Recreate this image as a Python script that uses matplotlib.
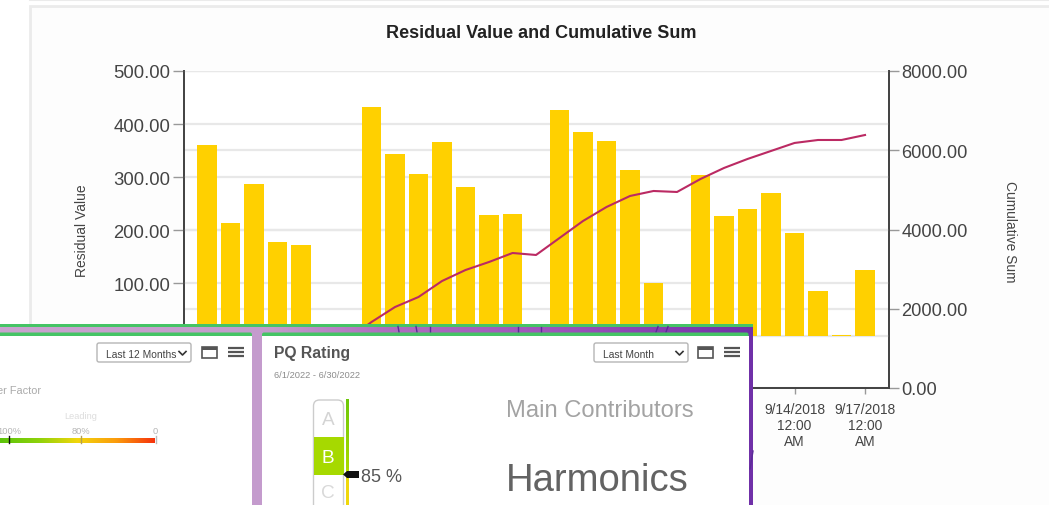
import numpy as np
import matplotlib
matplotlib.use('Agg')
import matplotlib.pyplot as plt
from matplotlib.colors import LinearSegmentedColormap
from matplotlib.patches import Rectangle, FancyBboxPatch, Polygon

plt.rcParams['font.family'] = ['Liberation Sans', 'DejaVu Sans']

W, H = 1049, 506

# one entry per day, 8/20/2018 to 9/17/2018
residual = [361, 213, 287, 178, 172, 0, 0,
            432, 343, 306, 366, 281, 228, 230, 0,
            426, 385, 368, 313, 100, 0,
            304, 226, 240, 270, 194, 85, 2, 125]
cumulative = [361, 574, 861, 1039, 1211, 1211, 1230,
              1666, 2044, 2297, 2700, 2978, 3180, 3407, 3357,
              3786, 4215, 4568, 4846, 4972, 4947,
              5275, 5553, 5780, 5982, 6184, 6259, 6259, 6385]
left_ticks = [0, 100, 200, 300, 400, 500]
right_ticks = [0, 2000, 4000, 6000, 8000]
tick_days = [25, 28]
tick_labels = ['9/14/2018\n12:00\nAM', '9/17/2018\n12:00\nAM']

days = np.arange(len(residual))


def px(size):
    return size * 0.72


fig = plt.figure(figsize=(W / 100, H / 100), dpi=100, facecolor='white')

# page behind the chart
bg = fig.add_axes([0, 0, 1, 1], zorder=-1)
bg.set_xlim(0, W)
bg.set_ylim(H, 0)
bg.axis('off')
bg.add_patch(Rectangle((30, 7), W, H, fc='#fdfdfd', ec='#ebebeb', lw=2))
bg.plot([30, W], [0.5, 0.5], color='#ebebeb', lw=1.5)

# chart: right scale is the base axes so its grid stays behind the bars
rect = [184 / W, 1 - 389 / H, (889 - 184) / W, (389 - 72) / H]
ax_r = fig.add_axes(rect, zorder=1)
ax_l = ax_r.twinx()
ax_l.set_zorder(2)
ax_l.patch.set_visible(False)

ax_r.set_xlim(-0.98, 29.02)
ax_r.set_ylim(0, 8000)
ax_l.set_ylim(-98.1, 500)

ax_r.yaxis.tick_right()
ax_r.yaxis.set_label_position('right')
ax_l.yaxis.tick_left()
ax_l.yaxis.set_label_position('left')

ax_r.set_yticks(right_ticks)
ax_r.set_yticklabels(['%.2f' % v for v in right_ticks], fontsize=px(18.3), color='#444444')
ax_l.set_yticks(left_ticks)
ax_l.set_yticklabels(['%.2f' % v for v in left_ticks], fontsize=px(18.5), color='#444444')
ax_r.tick_params(axis='y', length=7, width=1, color='#999999', pad=2)
ax_l.tick_params(axis='y', length=8, width=1, color='#999999', pad=2)

ax_r.grid(axis='y', color='#e8e8e8', lw=1.6)
ax_l.grid(axis='y', color='#e8e8e8', lw=1.6)
ax_r.set_axisbelow(True)
ax_l.set_axisbelow(True)

ax_l.bar(days, residual, width=0.83, color='#ffd000', zorder=2)
ax_l.plot(days, cumulative, color='#bb2a63', lw=1.5, zorder=3, transform=ax_r.transData)

ax_r.set_xticks(tick_days)
ax_r.set_xticklabels(tick_labels, fontsize=px(13.7), color='#444444', linespacing=1.2)
ax_r.tick_params(axis='x', length=4, width=1, color='#999999', pad=6)
ax_l.tick_params(axis='x', length=0, labelbottom=False)

for a in (ax_r, ax_l):
    a.spines['top'].set_visible(False)
    for s in ('left', 'right', 'bottom'):
        a.spines[s].set_color('#444444')
        a.spines[s].set_linewidth(1.3)

fig.text(541.5 / W, 1 - 33 / H, 'Residual Value and Cumulative Sum', fontsize=px(18), fontweight='bold',
         color='#222222', ha='center', va='center')
fig.text(82 / W, 1 - 230.5 / H, 'Residual Value', fontsize=px(13.9), color='#444444', rotation=90,
         ha='center', va='center')
fig.text(1010 / W, 1 - 231.5 / H, 'Cumulative Sum', fontsize=px(13.8), color='#444444', rotation=270,
         ha='center', va='center')

# dashboard panels sitting over the chart, drawn in screen pixels
ov = fig.add_axes([0, 0, 1, 1], zorder=10)
ov.patch.set_visible(False)
ov.axis('off')

band = LinearSegmentedColormap.from_list('band', [(0, '#c9a3cf'), (0.36, '#c49bcd'), (0.5, '#b070c0'),
                                                  (0.75, '#9c52bb'), (1, '#7030a8')])
ov.imshow(np.linspace(0, 1, 256).reshape(1, -1), cmap=band, extent=(0, 753, H, 327.5), aspect='auto', zorder=1)
ov.set_xlim(0, W)
ov.set_ylim(H, 0)

ov.add_patch(Rectangle((0, 325), 753, 2.5, fc='#45c465', ec='none', zorder=2))
for x0, x1 in [(398, 399), (416, 417), (430, 430), (518, 518), (541, 541), (658, 656), (668, 666)]:
    ov.plot([x0, x1], [327.5, 333], color='#5a2a98', lw=1, zorder=2)
ov.plot([753, 750], [452, 470], color='#5a2a98', lw=1, zorder=2)

# cards
for x0, x1 in [(-5, 252), (262, 748.5)]:
    ov.add_patch(FancyBboxPatch((x0, 333.5), x1 - x0, 8, boxstyle='round,pad=0,rounding_size=2',
                                fc='#45c465', ec='none', zorder=3))
    ov.add_patch(Rectangle((x0, 337), x1 - x0, 180, fc='white', ec='none', zorder=3))


def text(x, y, s, size, color, ha='left', weight='normal'):
    ov.text(x, y + 1.5, s, fontsize=px(size), color=color, ha=ha, va='center', fontweight=weight, zorder=6)


def dropdown(x0, x1, label):
    ov.add_patch(FancyBboxPatch((x0, 344), x1 - x0, 19, boxstyle='round,pad=0,rounding_size=2',
                                fc='white', ec='#b5b5b5', lw=1, zorder=5))
    text(x0 + 9, 353, label, 10.2, '#444444')
    ov.plot([x1 - 12, x1 - 8.5, x1 - 5], [352.5, 356, 352.5], color='#333333', lw=1.2, zorder=6)


def icons(x):
    ov.add_patch(Rectangle((x, 348), 15, 11, fc='white', ec='#555555', lw=1.2, zorder=5))
    ov.add_patch(Rectangle((x, 348), 15, 2.5, fc='#555555', ec='none', zorder=6))
    for y in (348.5, 352.5, 356.5):
        ov.plot([x + 26, x + 42], [y, y], color='#555555', lw=1.6, zorder=6, solid_capstyle='butt')


# left card
dropdown(97, 191, 'Last 12 Months')
icons(202)
text(41.5, 390, 'er Factor', 11, '#ababab', ha='right')
text(81, 415, 'Leading', 9.3, '#dddddd', ha='center')
text(9, 430, '100%', 9.3, '#b5b5b5', ha='center')
text(81, 430, '80%', 9.3, '#b5b5b5', ha='center')
text(155, 430, '0', 9.3, '#b5b5b5', ha='center')
pf = LinearSegmentedColormap.from_list('pf', ['#5cc40a', '#8ed20a', '#f2d60c', '#fb9c0c', '#f6320c'])
ov.imshow(np.linspace(0, 1, 256).reshape(1, -1), cmap=pf, extent=(0, 155, 444, 439), aspect='auto', zorder=4)
ov.set_xlim(0, W)
ov.set_ylim(H, 0)
ov.plot([9, 9], [437, 444], color='#111111', lw=1, zorder=5)
ov.plot([81, 81], [437, 444], color='#b5a050', lw=1, zorder=5)
ov.plot([155.5, 155.5], [437, 444], color='#bbbbbb', lw=1, zorder=5)

# right card
text(274, 352, 'PQ Rating', 15.7, '#555555', weight='bold')
text(274, 374, '6/1/2022 - 6/30/2022', 9.3, '#8c8c8c')
dropdown(594, 688, 'Last Month')
icons(698)

ov.add_patch(FancyBboxPatch((313.5, 401), 30, 130, boxstyle='round,pad=0,rounding_size=6',
                            fc='white', ec='#cccccc', lw=1, zorder=4))
ov.add_patch(Rectangle((314, 438), 29.5, 38, fc='#a6d900', ec='none', zorder=5))
text(328, 419, 'A', 19, '#d4d4d4', ha='center')
text(328, 457, 'B', 19, 'white', ha='center')
text(328, 492, 'C', 19, '#d9d9d9', ha='center')

rate = LinearSegmentedColormap.from_list('rate', [(0, '#6cc80a'), (0.65, '#a8d800'), (0.78, '#f0d80c'), (1, '#f0d80c')])
ov.imshow(np.linspace(0, 1, 128).reshape(-1, 1), cmap=rate, extent=(346.2, 348.4, H, 400), aspect='auto', zorder=4)
ov.set_xlim(0, W)
ov.set_ylim(H, 0)
ov.add_patch(Polygon([(343, 475.5), (347, 472), (359, 472), (359, 479), (347, 479)], fc='#111111', ec='none', zorder=6))
text(361, 476, '85 %', 18, '#555555')

text(505.5, 409.5, 'Main Contributors', 23.8, '#a3a3a3')
text(505.5, 479.5, 'Harmonics', 38.3, '#636363')

fig.savefig('out.png', dpi=100)
